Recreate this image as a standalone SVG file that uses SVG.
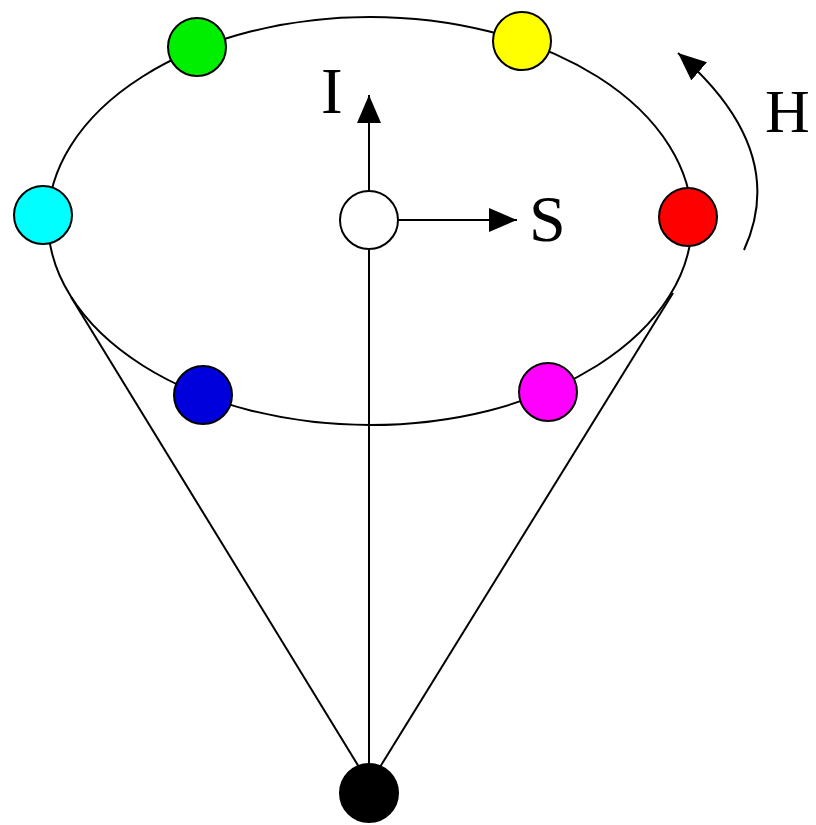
<svg xmlns="http://www.w3.org/2000/svg" width="816" height="825" viewBox="0 0 816 825">
<style>
.ln{fill:none;stroke:#000;stroke-width:2}
.nd{stroke:#000;stroke-width:2}
.lb{font-family:"Liberation Serif","Times New Roman",serif;fill:#000}
</style>
<defs>
<marker id="ah" viewBox="0 0 28 24" refX="28" refY="12" markerWidth="28" markerHeight="24" markerUnits="userSpaceOnUse" orient="auto">
<path d="M0,0 L28,12 L0,24 Z" fill="#000"/>
</marker>
</defs>
<rect width="816" height="825" fill="#fff"/>
<g id="connectors">
<ellipse class="ln" cx="370" cy="221" rx="322" ry="204"/>
<line class="ln" x1="71" y1="297" x2="359" y2="767"/>
<line class="ln" x1="673" y1="293" x2="380" y2="767"/>
<line class="ln" x1="369" y1="250" x2="369" y2="764"/>
<line class="ln" x1="369" y1="191" x2="369" y2="95" marker-end="url(#ah)"/>
<line class="ln" x1="398" y1="220" x2="517" y2="220" marker-end="url(#ah)"/>
<path class="ln" d="M744,250 Q790,150 678,53" marker-end="url(#ah)"/>
</g>
<g id="node-green"><circle class="nd" cx="197" cy="47" r="29" fill="#00ee00"/></g>
<g id="node-yellow"><circle class="nd" cx="522" cy="41" r="29" fill="#ffff00"/></g>
<g id="node-cyan"><circle class="nd" cx="43" cy="215" r="29" fill="#00ffff"/></g>
<g id="node-red"><circle class="nd" cx="688" cy="217" r="29" fill="#ff0000"/></g>
<g id="node-white"><circle class="nd" cx="369" cy="220" r="29" fill="#ffffff"/></g>
<g id="node-blue"><circle class="nd" cx="203" cy="395" r="29" fill="#0000dd"/></g>
<g id="node-magenta"><circle class="nd" cx="548" cy="392" r="29" fill="#ff00ff"/></g>
<g id="node-black"><circle class="nd" cx="369" cy="793" r="29" fill="#000000"/></g>
<g id="labels">
<text class="lb" x="321" y="113" font-size="65">I</text>
<text class="lb" x="529" y="241" font-size="66">S</text>
<text class="lb" x="765" y="132" font-size="62">H</text>
</g>
</svg>
